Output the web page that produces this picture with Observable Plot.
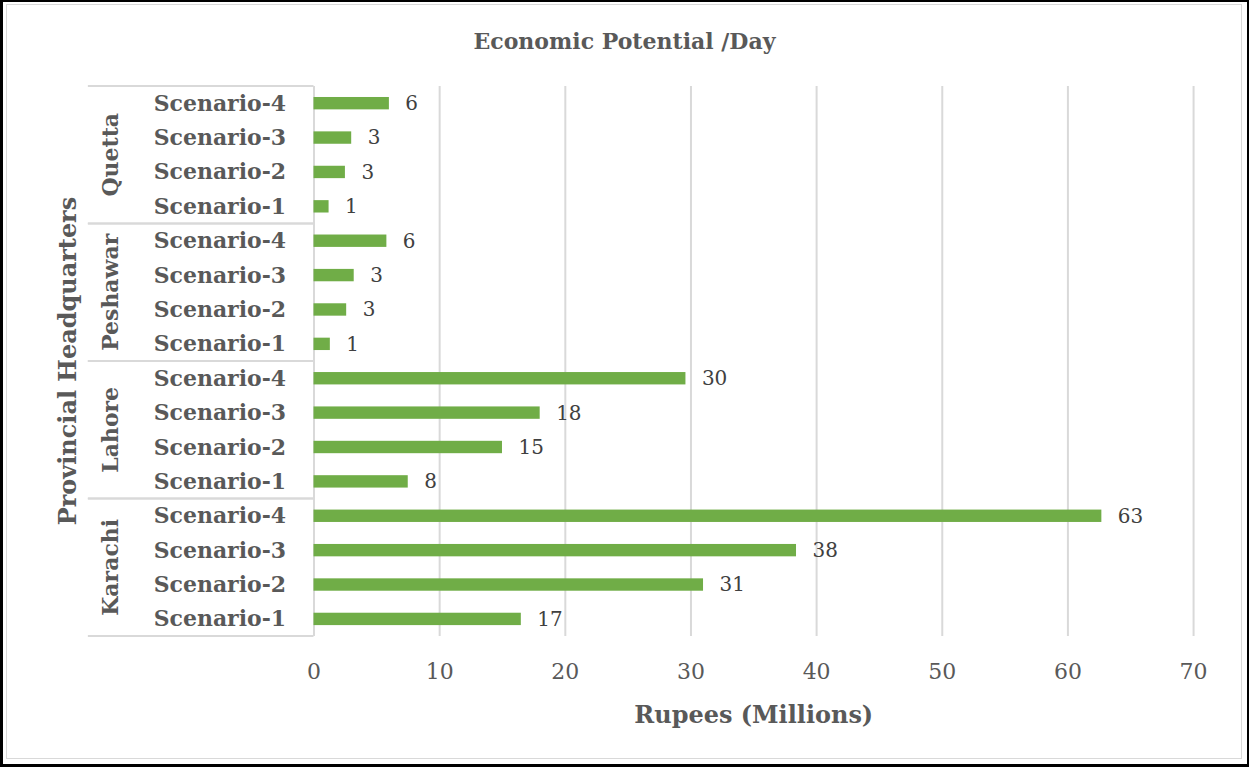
<!DOCTYPE html>
<html>
<head>
<meta charset="utf-8">
<script src="https://cdn.jsdelivr.net/npm/d3@7"></script>
<script src="https://cdn.jsdelivr.net/npm/@observablehq/plot@0.6"></script>
<style>
  body { margin: 0; background: #fff; }
  #frame { position: relative; width: 1249px; height: 767px; box-sizing: border-box; border: 2px solid #000; border-left-width: 3px; border-bottom-width: 3px; overflow: hidden; background: #fff; }
  #inner { position: absolute; left: 3px; top: 2px; right: 5px; bottom: 5px; border: 1px solid #d9d9d9; }
  #title { position: absolute; left: -3px; top: 26px; width: 1249px; text-align: center; font-family: "DejaVu Serif", serif; font-weight: bold; font-size: 22px; color: #595959; }
  #chart { position: absolute; left: -3px; top: 76px; }
</style>
</head>
<body>
<div id="frame">
  <div id="inner"></div>
  <div id="title">Economic Potential /Day</div>
  <div id="chart"></div>
</div>
<script>
// ---- data ----
const cities = ["Karachi", "Lahore", "Peshawar", "Quetta"];
const scenarios = ["Scenario-1", "Scenario-2", "Scenario-3", "Scenario-4"];
const karachi = [16.5, 31.0, 38.4, 62.7];
const lahore = [7.5, 15.0, 18.0, 29.6];
const peshawar = [1.3, 2.6, 3.2, 5.8];
const quetta = [1.2, 2.5, 3.0, 6.0];
const xTicks = [0, 10, 20, 30, 40, 50, 60, 70];
const titleText = "Economic Potential /Day";
const xTitle = "Rupees (Millions)";
const yTitle = "Provincial Headquarters";

const series = [karachi, lahore, peshawar, quetta];
const rows = [];
cities.forEach((c, i) => scenarios.forEach((s, j) => rows.push({city: c, scenario: s, key: c + "|" + s, value: series[i][j]})));
const yDomain = [...cities].reverse().flatMap(c => [...scenarios].reverse().map(s => c + "|" + s));

const FONT = "DejaVu Serif";
const GRID = "#d9d9d9";
const TEXT = "#595959";

// group labels + separators drawn from the y scale
function groupMark(index, scales, values, dims) {
  const y = scales.y;
  const step = y.step();
  const bw = y.bandwidth();
  const g = d3.create("svg:g");
  const left = dims.marginLeft - 226;
  const right = dims.marginLeft;
  cities.forEach(c => {
    const top = y(c + "|Scenario-4") + bw / 2 - step / 2;
    const bot = y(c + "|Scenario-1") + bw / 2 + step / 2;
    g.append("line").attr("x1", left).attr("x2", right).attr("y1", top).attr("y2", top)
      .attr("stroke", GRID).attr("stroke-width", 2);
    g.append("line").attr("x1", left).attr("x2", right).attr("y1", bot).attr("y2", bot)
      .attr("stroke", GRID).attr("stroke-width", 2);
    const cy = (top + bot) / 2;
    g.append("text").attr("transform", `translate(${dims.marginLeft - 204},${cy}) rotate(-90)`)
      .attr("text-anchor", "middle").attr("dominant-baseline", "central")
      .attr("font-family", FONT).attr("font-weight", "bold").attr("font-size", 22)
      .attr("fill", TEXT).text(c);
  });
  const midY = (dims.marginTop + dims.height - dims.marginBottom) / 2;
  g.append("text").attr("transform", `translate(${dims.marginLeft - 246},${midY}) rotate(-90)`)
    .attr("text-anchor", "middle").attr("dominant-baseline", "central")
    .attr("font-family", FONT).attr("font-weight", "bold").attr("font-size", 24)
    .attr("fill", TEXT).text(yTitle);
  return g.node();
}

const plot = Plot.plot({
  width: 1249,
  height: 689,
  marginLeft: 314,
  marginRight: 54,
  marginTop: 8,
  marginBottom: 130,
  style: {fontFamily: FONT, background: "transparent", overflow: "visible"},
  x: {domain: [0, 70], axis: null},
  y: {domain: yDomain, paddingInner: 0.64, paddingOuter: 0.32, round: false, axis: null},
  marks: [
    Plot.ruleX(xTicks.slice(1), {stroke: GRID, strokeWidth: 2}),
    Plot.ruleX([0], {stroke: GRID, strokeWidth: 2}),
    Plot.barX(rows, {x: "value", y: "key", fill: "#70ad47"}),
    Plot.text(rows, {x: "value", y: "key", text: d => String(Math.round(d.value)), textAnchor: "start", dx: 16, fill: "#404040", fontSize: 20}),
    Plot.axisY({tickSize: 0, tickPadding: 28, tickFormat: k => k.split("|")[1], fontSize: 22, fontWeight: "bold", fill: TEXT, label: null}),
    Plot.axisX({ticks: xTicks, tickSize: 0, tickPadding: 27, fontSize: 22, fill: TEXT, label: null}),
    Plot.text([xTitle], {frameAnchor: "bottom", dy: 79, lineAnchor: "middle", fontSize: 24, fontWeight: "bold", fill: TEXT}),
    groupMark
  ]
});
document.getElementById("title").textContent = titleText;
document.getElementById("chart").appendChild(plot);
</script>
</body>
</html>
